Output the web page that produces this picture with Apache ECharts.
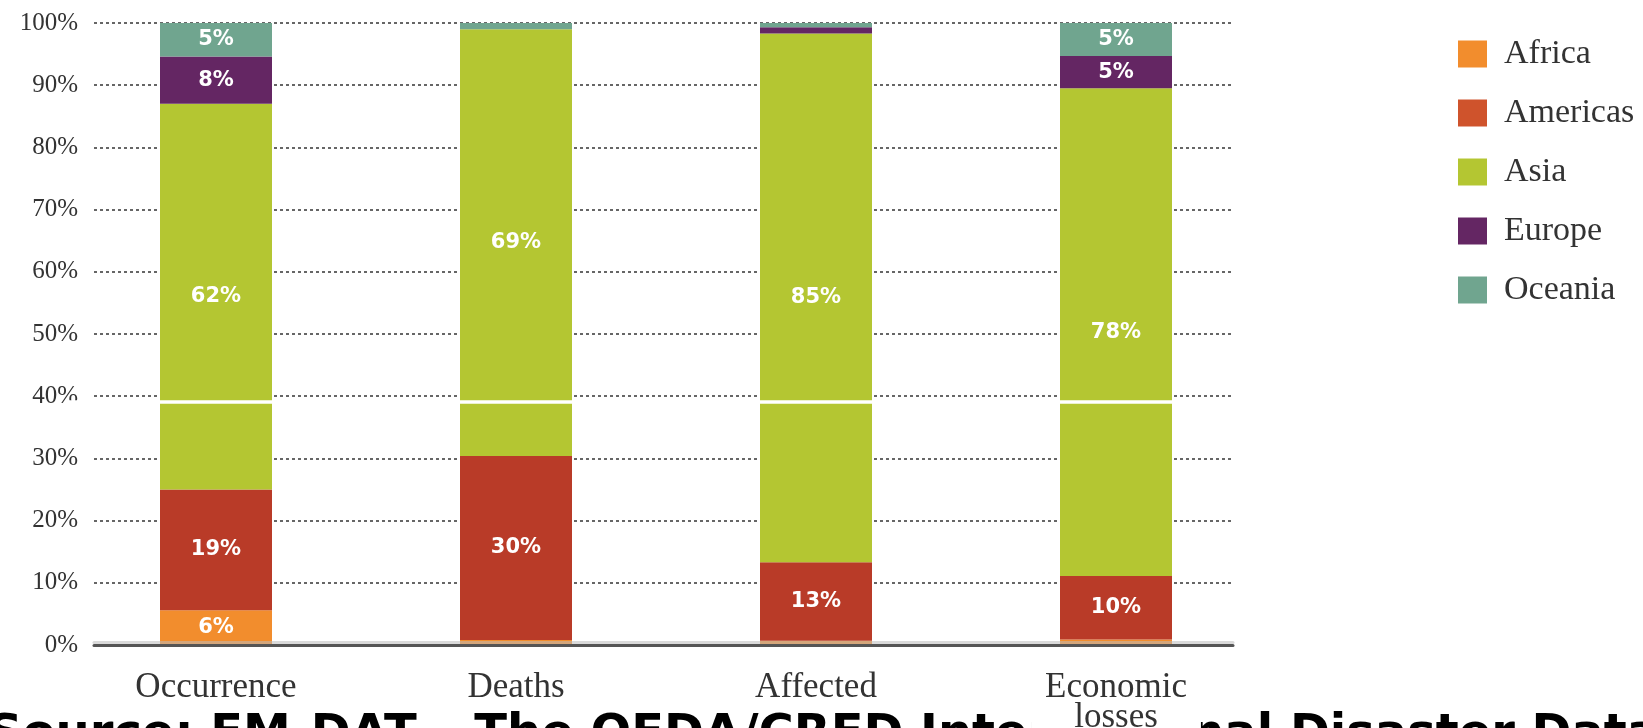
<!DOCTYPE html>
<html>
<head>
<meta charset="utf-8">
<script src="https://cdn.jsdelivr.net/npm/echarts@6/dist/echarts.min.js"></script>
<style>
html,body{margin:0;padding:0;background:#fff;}
#chart{width:1643px;height:728px;}
</style>
</head>
<body>
<div id="chart"></div>
<script>
const categories = ['Occurrence', 'Deaths', 'Affected', 'Economic losses'];
const africa   = [5.6, 0.8, 0.7, 0.9];
const americas = [19.4, 29.6, 12.6, 10.2];
const asia     = [62.0, 68.6, 85.0, 78.4];
const europe   = [7.6, 0.0, 1.0, 5.2];
const oceania  = [5.4, 1.0, 0.7, 5.3];
const seriesNames = ['Africa', 'Americas', 'Asia', 'Europe', 'Oceania'];
const asiaBreak = 39.1;
const sourceText = 'Source: EM-DAT \u2013 The OFDA/CRED International Disaster Database';

const colors = ['#f28d2d', '#b93b28', '#b4c632', '#642663', '#70a58f'];
const legendColors = ['#f28d2d', '#cf532c', '#b4c632', '#642663', '#70a58f'];
const values = [africa, americas, asia, europe, oceania];

const serif = '"Liberation Serif", "DejaVu Serif", serif';

const series = seriesNames.map((name, i) => {
  const s = {
    name: name,
    type: 'bar',
    stack: 'total',
    xAxisIndex: 2,
    yAxisIndex: 1,
    barWidth: 112,
    data: values[i],
    itemStyle: { color: colors[i] },
    label: {
      show: true,
      position: 'inside',
      color: '#fff',
      fontFamily: 'DejaVu Sans',
      fontWeight: 'bold',
      fontSize: 21,
      formatter: p => (p.value >= 3 ? Math.round(p.value) + '%' : '')
    }
  };
  if (name === 'Asia') {
    s.markLine = {
      silent: true,
      symbol: ['none', 'none'],
      label: { show: false },
      lineStyle: { color: '#fff', width: 3.5, type: 'solid' },
      data: [{ yAxis: asiaBreak }]
    };
  }
  return s;
});

const chart = echarts.init(document.getElementById('chart'), null, { renderer: 'canvas' });
chart.setOption({
  animation: false,
  backgroundColor: '#fff',
  grid: [
    { left: 94, width: 1139, top: 23, height: 622, outerBoundsMode: 'none', containLabel: false },
    { left: 66, width: 1200, top: 23, height: 622, outerBoundsMode: 'none', containLabel: false }
  ],
  legend: {
    orient: 'vertical',
    left: 1458,
    top: 37,
    itemWidth: 29,
    itemHeight: 27,
    itemGap: 25,
    padding: 0,
    icon: 'rect',
    textStyle: { fontFamily: serif, fontSize: 34, color: '#333', padding: [0, 0, 0, 12] },
    data: seriesNames.map((n, i) => ({ name: n, itemStyle: { color: legendColors[i] } }))
  },
  xAxis: [
    {
      gridIndex: 0, type: 'category', data: categories, position: 'bottom', z: 5,
      axisLine: { show: true, lineStyle: { color: '#555', width: 3 } },
      axisTick: { show: false }, axisLabel: { show: false }, splitLine: { show: false }
    },
    {
      gridIndex: 0, type: 'category', data: categories, position: 'bottom', offset: -3, z: 5,
      axisLine: { show: true, lineStyle: { color: '#bbb', width: 3, opacity: 0.55 } },
      axisTick: { show: false }, axisLabel: { show: false }, splitLine: { show: false }
    },
    {
      gridIndex: 1, type: 'category', data: categories, position: 'bottom', z: 20,
      axisLine: { show: false }, axisTick: { show: false },
      axisLabel: {
        fontFamily: serif, fontSize: 35, color: '#333', lineHeight: 30, margin: 28,
        backgroundColor: '#fff', padding: [0, 14],
        formatter: v => v.replace(' ', '\n')
      }
    }
  ],
  yAxis: [
    {
      gridIndex: 0, type: 'value', min: 0, max: 100, interval: 10,
      axisLine: { show: false }, axisTick: { show: false },
      axisLabel: { fontFamily: serif, fontSize: 25, color: '#333', margin: 16, formatter: '{value}%' },
      splitLine: { show: true, lineStyle: { color: '#666', width: 2, type: [3, 3] } }
    },
    { gridIndex: 1, type: 'value', min: 0, max: 100, show: false }
  ],
  graphic: [
    {
      type: 'text', x: -12, y: 736, z: 1,
      style: {
        text: sourceText,
        fill: '#000',
        font: 'bold 48px "DejaVu Sans", sans-serif',
        verticalAlign: 'middle',
        align: 'left'
      }
    }
  ],
  series: series
});
</script>
</body>
</html>
